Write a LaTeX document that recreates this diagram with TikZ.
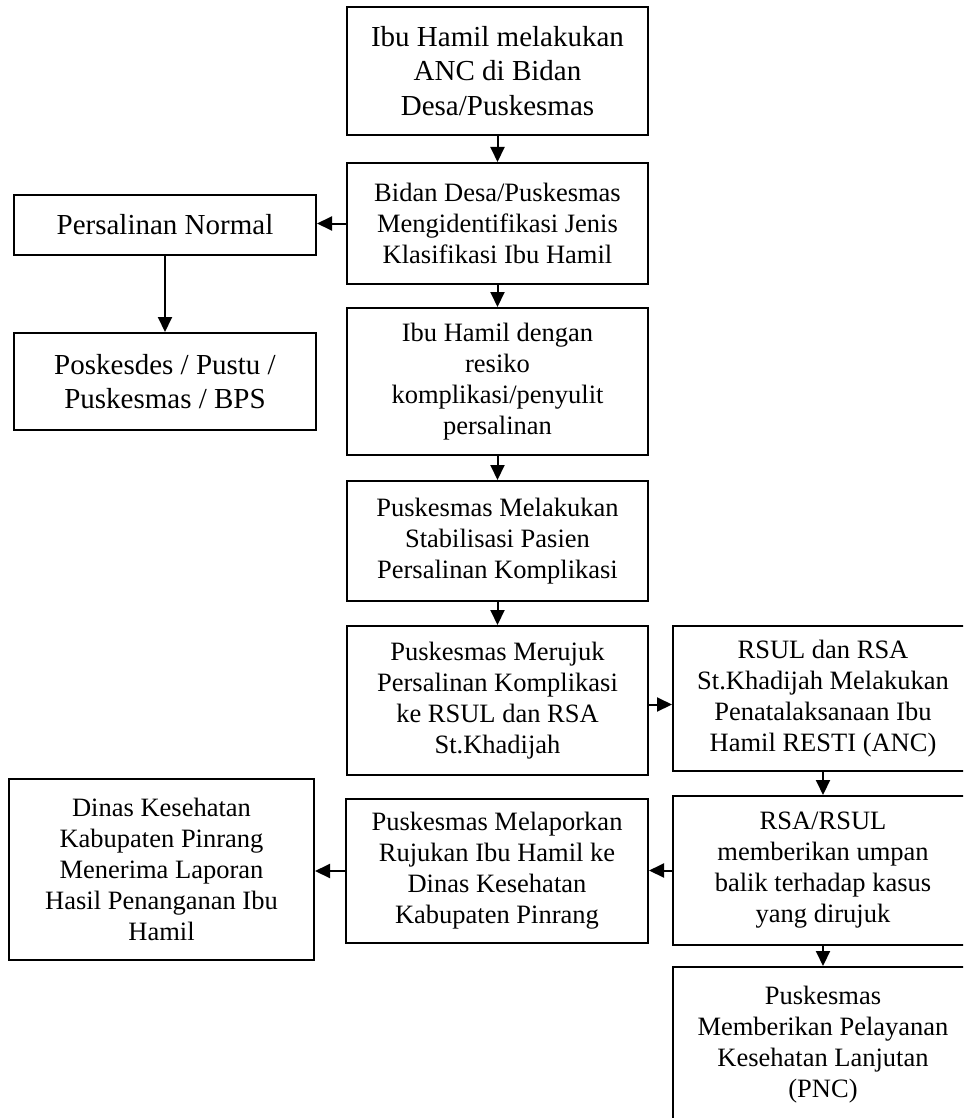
\documentclass[tikz,border=0pt]{standalone}
\usepackage{fontspec}
\setmainfont{Liberation Serif}
\usetikzlibrary{arrows.meta}
\begin{document}
\begin{tikzpicture}[x=1pt,y=-1pt,
  flowbox/.style={draw, line width=2pt, align=center, inner sep=0pt,
    font=\fontsize{26.5}{31}\selectfont},
  bigbox/.style={flowbox, font=\fontsize{29}{34.5}\selectfont},
  flow/.style={line width=2pt, -{Triangle[length=15pt,width=14pt]}}]
\clip (0,0) rectangle (963,1118);
\fill[white] (0,0) rectangle (963,1118);

% centre column
\node[bigbox, minimum width=301pt, minimum height=128pt] (anc) at (497.5,71)
  {Ibu Hamil melakukan\\ANC di Bidan\\Desa/Puskesmas};
\node[flowbox, minimum width=301pt, minimum height=121pt] (ident) at (497.5,223.5)
  {Bidan Desa/Puskesmas\\Mengidentifikasi Jenis\\Klasifikasi Ibu Hamil};
\node[flowbox, minimum width=301pt, minimum height=147pt] (resiko) at (497.5,381.5)
  {Ibu Hamil dengan\\resiko\\komplikasi/penyulit\\persalinan};
\node[flowbox, minimum width=301pt, minimum height=120pt] (stabil) at (497.5,541)
  {Puskesmas Melakukan\\Stabilisasi Pasien\\Persalinan Komplikasi};
\node[flowbox, minimum width=301pt, minimum height=149pt] (rujuk) at (497.5,700.5)
  {Puskesmas Merujuk\\Persalinan Komplikasi\\ke RSUL dan RSA\\St.Khadijah};
\node[flowbox, minimum width=302pt, minimum height=144pt] (lapor) at (497,871)
  {Puskesmas Melaporkan\\Rujukan Ibu Hamil ke\\Dinas Kesehatan\\Kabupaten Pinrang};

% left column
\node[bigbox, minimum width=302pt, minimum height=60pt] (normal) at (165,225)
  {Persalinan Normal};
\node[bigbox, minimum width=302pt, minimum height=97pt] (pos) at (165,381.5)
  {Poskesdes / Pustu /\\Puskesmas / BPS};
\node[flowbox, minimum width=305pt, minimum height=181pt] (dinas) at (161.5,869.5)
  {Dinas Kesehatan\\Kabupaten Pinrang\\Menerima Laporan\\Hasil Penanganan Ibu\\Hamil};

% right column
\node[flowbox, minimum width=300pt, minimum height=145pt] (resti) at (823,698.5)
  {RSUL dan RSA\\St.Khadijah Melakukan\\Penatalaksanaan Ibu\\Hamil RESTI (ANC)};
\node[flowbox, minimum width=300pt, minimum height=149pt] (balik) at (823,870.5)
  {RSA/RSUL\\memberikan umpan\\balik terhadap kasus\\yang dirujuk};
\node[flowbox, minimum width=300pt, minimum height=156pt] (pnc) at (823,1045)
  {Puskesmas\\Memberikan Pelayanan\\Kesehatan Lanjutan\\(PNC)};

% connectors
\draw[flow] (anc.south) -- (ident.north);
\draw[flow] (ident.west) -- (ident.west -| normal.east);
\draw[flow] (normal.south) -- (pos.north);
\draw[flow] (ident.south) -- (resiko.north);
\draw[flow] (resiko.south) -- (stabil.north);
\draw[flow] (stabil.south) -- (rujuk.north);
\draw[flow] ([yshift=-4pt]rujuk.east) -- ([yshift=-4pt]rujuk.east -| resti.west);
\draw[flow] (resti.south) -- (balik.north);
\draw[flow] (balik.west) -- (balik.west -| lapor.east);
\draw[flow] (lapor.west) -- (lapor.west -| dinas.east);
\draw[flow] (balik.south) -- (pnc.north);
\end{tikzpicture}
\end{document}
